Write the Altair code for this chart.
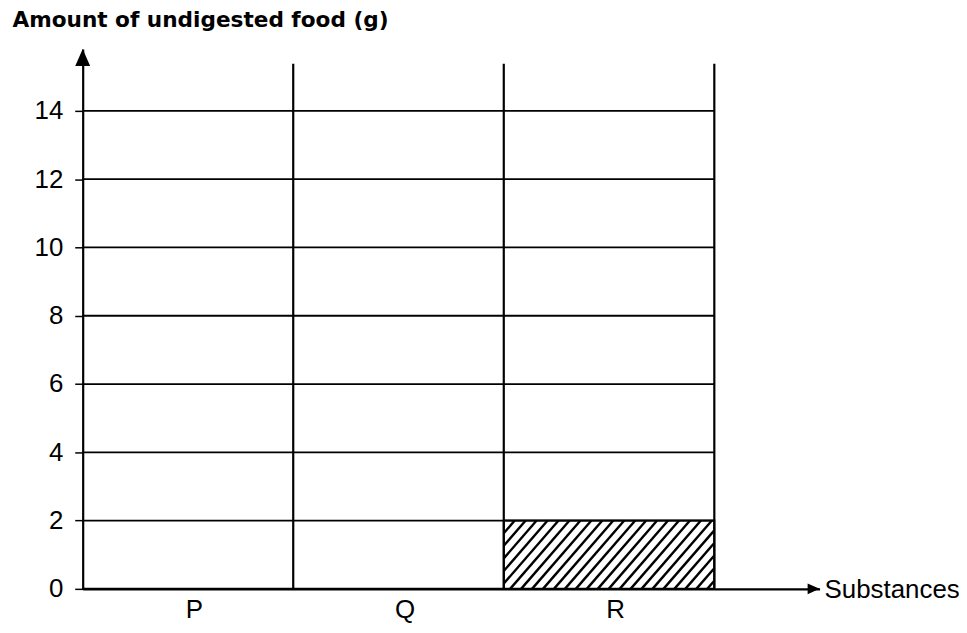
import altair as alt
import pandas as pd

# ---- data ----
substances = ["P", "Q", "R"]
amounts = [0, 0, 2]
y_ticks = [0, 2, 4, 6, 8, 10, 12, 14]
y_title = "Amount of undigested food (g)"
x_title = "Substances"

# ---- scale / layout constants ----
W, H = 740, 542
XMAX = 3.5       # axis arrow extends past the last category
YMAX = 15.81     # arrow tip of the y axis
VTOP = 15.38     # top of the category separator lines
PX_X = W / XMAX
PX_Y = H / YMAX
FONT = "Liberation Sans"

xs = alt.Scale(domain=[0, XMAX], nice=False, zero=False)
ys = alt.Scale(domain=[0, YMAX], nice=False, zero=False)

n = len(substances)
bars = pd.DataFrame({
    "substance": substances,
    "amount": amounts,
    "start": list(range(n)),
    "end": list(range(1, n + 1)),
    "base": [0] * n,
})

# hatch segments for each bar, derived from the bar values (diagonal pattern)
spacing, slope = 11.0, 1.15
segs = []
for _, r in bars.iterrows():
    if r["amount"] <= 0:
        continue
    x0, x1 = r["start"] * PX_X, r["end"] * PX_X
    h = r["amount"] * PX_Y
    c = x0 - h / slope
    while c < x1:
        bx, by = c, 0.0
        if bx < x0:
            bx, by = x0, (x0 - c) * slope
        tx, ty = c + h / slope, h
        if tx > x1:
            tx, ty = x1, (x1 - c) * slope
        if by < ty:
            segs.append({"x": bx / PX_X, "y": by / PX_Y, "x2": tx / PX_X, "y2": ty / PX_Y})
        c += spacing
hatch = pd.DataFrame(segs)

grid = pd.DataFrame({"v": [t for t in y_ticks if t > 0]})
grid["x"] = 0
grid["x2"] = n
seps = pd.DataFrame({"b": list(range(1, n + 1))})
seps["y"] = 0
seps["y2"] = VTOP

label_expr = "[" + ",".join("'%s'" % s for s in substances) + "][floor(datum.value)]"

xaxis = alt.Axis(values=[i + 0.5 for i in range(n)], labelExpr=label_expr,
                 ticks=False, grid=False, title=None, domainColor="black",
                 domainWidth=2.2, labelFont=FONT, labelFontSize=26,
                 labelColor="black", labelPadding=8, labelOffset=6)
yaxis = alt.Axis(values=y_ticks, grid=False, tickSize=8, tickColor="black",
                 tickWidth=1.5, domainColor="black", domainWidth=2.2,
                 labelFont=FONT, labelFontSize=26, labelColor="black",
                 labelPadding=12, title=y_title, titleAngle=0,
                 titleAlign="left", titleBaseline="alphabetic",
                 titleX=-71, titleY=-23, titleFont="DejaVu Sans",
                 titleFontSize=21.7, titleFontWeight="bold", titleColor="black")


def X(f):
    return alt.X(f, scale=xs, axis=xaxis)


def Y(f):
    return alt.Y(f, scale=ys, axis=yaxis)


base_bar = alt.Chart(bars).mark_rect(fill="white", stroke="black", strokeWidth=2).encode(
    x=X("start:Q"), x2="end:Q", y=Y("amount:Q"), y2="base:Q",
)

hatch_layer = alt.Chart(hatch).mark_rule(color="black", strokeWidth=2.4).encode(
    x=X("x:Q"), x2="x2:Q", y=Y("y:Q"), y2="y2:Q",
)

grid_layer = alt.Chart(grid).mark_rule(color="black", strokeWidth=1.8).encode(
    x=X("x:Q"), x2="x2:Q", y=Y("v:Q"),
)

sep_layer = alt.Chart(seps).mark_rule(color="black", strokeWidth=2.2).encode(
    x=X("b:Q"), y=Y("y:Q"), y2="y2:Q",
)

arrow_y = alt.Chart(pd.DataFrame({"x": [0], "y": [YMAX]})).mark_point(
    shape="M0,0 L-0.44,1 L0.44,1 Z", filled=True, color="black", opacity=1, size=1156
).encode(x=X("x:Q"), y=Y("y:Q"))

arrow_x = alt.Chart(pd.DataFrame({"x": [XMAX], "y": [0]})).mark_point(
    shape="M0,0 L-1,-0.45 L-1,0.45 Z", filled=True, color="black", opacity=1, size=576
).encode(x=X("x:Q"), y=Y("y:Q"))

x_label = alt.Chart(pd.DataFrame({"x": [XMAX], "y": [0], "t": [x_title]})).mark_text(
    align="left", baseline="middle", dx=5, dy=1, font=FONT, fontSize=26, color="black"
).encode(x=X("x:Q"), y=Y("y:Q"), text="t:N")

chart = alt.layer(
    base_bar, hatch_layer, grid_layer, sep_layer, arrow_y, arrow_x, x_label
).properties(
    width=W, height=H,
    autosize=alt.AutoSizeParams(type="none"),
    padding={"left": 75, "top": 40, "right": 140, "bottom": 35},
).configure_view(stroke=None)

chart.save("out.html", embed_options={"renderer": "svg", "actions": False})
